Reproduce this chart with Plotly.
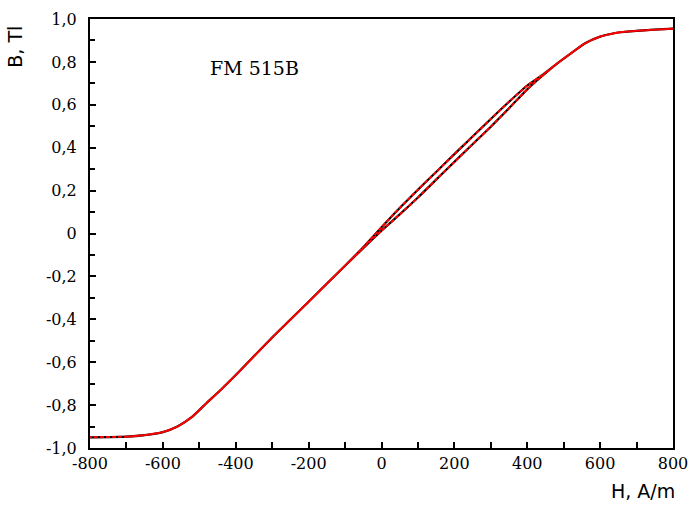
import plotly.graph_objects as go

# Magnetic field strength H, A/m (shared by both loop branches)
H = [-800, -700, -650, -600, -560, -520, -480, -440, -400, -300, -200, -100,
     -50, 0, 50, 100, 150, 200, 250, 300, 350, 400, 440, 480, 520, 560,
     600, 650, 700, 800]

# Flux density B, T - descending branch (H from +800 down to -800)
B_down = [-0.950, -0.947, -0.940, -0.926, -0.900, -0.855, -0.790, -0.727,
          -0.660, -0.485, -0.318, -0.150, -0.064, 0.029, 0.119, 0.204,
          0.287, 0.370, 0.452, 0.534, 0.614, 0.690, 0.737, 0.790, 0.840,
          0.888, 0.918, 0.937, 0.945, 0.955]

# Flux density B, T - ascending branch (H from -800 up to +800)
B_up = [-0.950, -0.947, -0.940, -0.926, -0.900, -0.855, -0.790, -0.727,
        -0.660, -0.485, -0.318, -0.150, -0.068, 0.013, 0.089, 0.168,
        0.251, 0.334, 0.416, 0.498, 0.584, 0.672, 0.733, 0.790, 0.840,
        0.888, 0.918, 0.937, 0.945, 0.955]

x_ticks = [-800, -600, -400, -200, 0, 200, 400, 600, 800]
x_labels = ["-800", "-600", "-400", "-200", "0", "200", "400", "600", "800"]
y_ticks = [1.0, 0.8, 0.6, 0.4, 0.2, 0.0, -0.2, -0.4, -0.6, -0.8, -1.0]
y_labels = ["1,0", "0,8", "0,6", "0,4", "0,2", "0", "-0,2", "-0,4",
            "-0,6", "-0,8", "-1,0"]

W, HGT = 698, 505
ML, MR, MT, MB = 90, 23, 10, 57
PW, PH = W - ML - MR, HGT - MT - MB


def paper(px, py):
    """Pixel position on the page -> paper coordinates."""
    return (px - ML) / PW, 1 - (py - MT) / PH


# closed loop: up the ascending branch, back down the descending one
loop_H = H + H[::-1]
loop_B = B_up + B_down[::-1]

fig = go.Figure()
fig.add_trace(go.Scatter(x=loop_H, y=loop_B, mode="lines",
                         line=dict(color="black", width=2.2, shape="spline",
                                   smoothing=0.6),
                         hoverinfo="skip", showlegend=False))
fig.add_trace(go.Scatter(x=loop_H, y=loop_B, mode="lines",
                         line=dict(color="#ff0000", width=2.0, dash="4px,2px",
                                   shape="spline", smoothing=0.6),
                         hoverinfo="skip", showlegend=False))

tick_font = dict(family="DejaVu Serif", size=16, color="black")

fig.update_xaxes(
    range=[-800, 800], tickvals=x_ticks, ticktext=x_labels,
    ticks="inside", ticklen=6, tickwidth=1.5, tickcolor="black",
    minor=dict(dtick=100, tick0=0, ticks="inside", ticklen=6,
               tickwidth=1.5, tickcolor="black"),
    showline=True, linecolor="black", linewidth=2, mirror=True,
    showgrid=False, zeroline=False, tickfont=tick_font,
)
fig.update_yaxes(
    range=[-1, 1], tickvals=y_ticks, ticktext=y_labels,
    ticks="inside", ticklen=6, tickwidth=1.5, tickcolor="black",
    minor=dict(dtick=0.1, tick0=0, ticks="inside", ticklen=5,
               tickwidth=1.5, tickcolor="black"),
    showline=True, linecolor="black", linewidth=2, mirror=True,
    showgrid=False, zeroline=False, tickfont=tick_font,
    ticklabelstandoff=8,
)

ax, ay = paper(255, 60)
fig.add_annotation(text="FM 515B", x=ax, y=ay, xref="paper", yref="paper",
                   xanchor="center", yanchor="middle", showarrow=False,
                   font=dict(family="DejaVu Serif", size=19, color="black"))
ax, ay = paper(15, 38)
fig.add_annotation(text="B, Tl", textangle=-90, x=ax, y=ay, xref="paper",
                   yref="paper", xanchor="center", yanchor="middle",
                   showarrow=False,
                   font=dict(family="DejaVu Sans", size=19, color="black"))
ax, ay = paper(645, 492)
fig.add_annotation(text="H, A/m", x=ax, y=ay, xref="paper", yref="paper",
                   xanchor="center", yanchor="middle", showarrow=False,
                   font=dict(family="DejaVu Sans", size=19, color="black"))

fig.update_layout(
    width=W, height=HGT,
    margin=dict(l=ML, r=MR, t=MT, b=MB),
    paper_bgcolor="white", plot_bgcolor="white",
)

fig.write_html("out.html")
